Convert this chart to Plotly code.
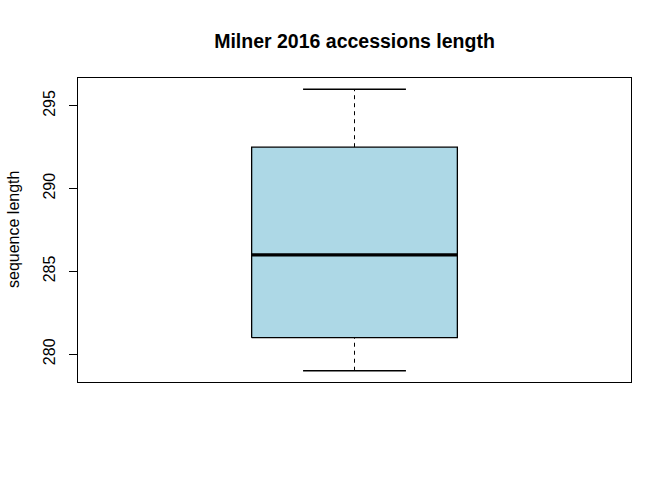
import plotly.graph_objects as go

# Data (five-number summary)
category = ["Milner 2016"]
lower_whisker = [279]
q1 = [281]
median = [286]
q3 = [292.5]
upper_whisker = [296]
y_ticks = [280, 285, 290, 295]

# style constants
BOX_HALF = 0.186
CAP_HALF = 0.093
FILL = "#ADD8E6"
FONT = "Arial, Liberation Sans, sans-serif"

fig = go.Figure()
xc = 1.0
i = 0
# whiskers (dashed)
fig.add_trace(go.Scatter(x=[xc, xc], y=[q3[i], upper_whisker[i]], mode="lines",
                         line=dict(color="black", width=1, dash="4px,4px"), hoverinfo="skip"))
fig.add_trace(go.Scatter(x=[xc, xc], y=[lower_whisker[i], q1[i]], mode="lines",
                         line=dict(color="black", width=1, dash="4px,4px"), hoverinfo="skip"))
# caps
fig.add_trace(go.Scatter(x=[xc - CAP_HALF, xc + CAP_HALF], y=[upper_whisker[i]] * 2, mode="lines",
                         line=dict(color="black", width=1.3), hoverinfo="skip"))
fig.add_trace(go.Scatter(x=[xc - CAP_HALF, xc + CAP_HALF], y=[lower_whisker[i]] * 2, mode="lines",
                         line=dict(color="black", width=1.3), hoverinfo="skip"))
# box
fig.add_trace(go.Scatter(x=[xc - BOX_HALF, xc + BOX_HALF, xc + BOX_HALF, xc - BOX_HALF, xc - BOX_HALF],
                         y=[q1[i], q1[i], q3[i], q3[i], q1[i]], mode="lines", fill="toself",
                         fillcolor=FILL, line=dict(color="black", width=1.3), hoverinfo="skip"))
# median
fig.add_trace(go.Scatter(x=[xc - BOX_HALF, xc + BOX_HALF], y=[median[i]] * 2, mode="lines",
                         line=dict(color="black", width=3.2), hoverinfo="skip"))

fig.update_layout(
    width=672, height=480,
    margin=dict(l=78, r=41, t=78, b=98),
    paper_bgcolor="white", plot_bgcolor="white",
    showlegend=False,
    font=dict(family=FONT, color="black", size=16),
    title=dict(text="<b>Milner 2016 accessions length</b>", x=354.5 / 672, xanchor="center",
               yref="container", y=1 - 41 / 480, yanchor="middle",
               font=dict(family=FONT, size=19.5, color="black")),
    xaxis=dict(range=[0.5, 1.5], showticklabels=False, ticks="", showgrid=False, zeroline=False,
               showline=True, mirror=True, linecolor="black", linewidth=1),
    yaxis=dict(range=[278.32, 296.68], tickvals=y_ticks, ticktext=[str(v) for v in y_ticks],
               ticks="outside", ticklen=8, tickcolor="black", tickwidth=1, tickangle=-90,
               ticklabelstandoff=8,
               showgrid=False, zeroline=False, showline=True, mirror=True,
               linecolor="black", linewidth=1, tickfont=dict(family=FONT, size=16, color="black")),
    annotations=[dict(text="sequence length", xref="paper", yref="paper", x=(13 - 78) / 553, y=0.5,
                      xanchor="center", yanchor="middle", textangle=-90, showarrow=False,
                      font=dict(family=FONT, size=16, color="black"))],
)

fig.write_html("out.html", config={"displayModeBar": False},
               post_script="document.body.style.margin='0';")
